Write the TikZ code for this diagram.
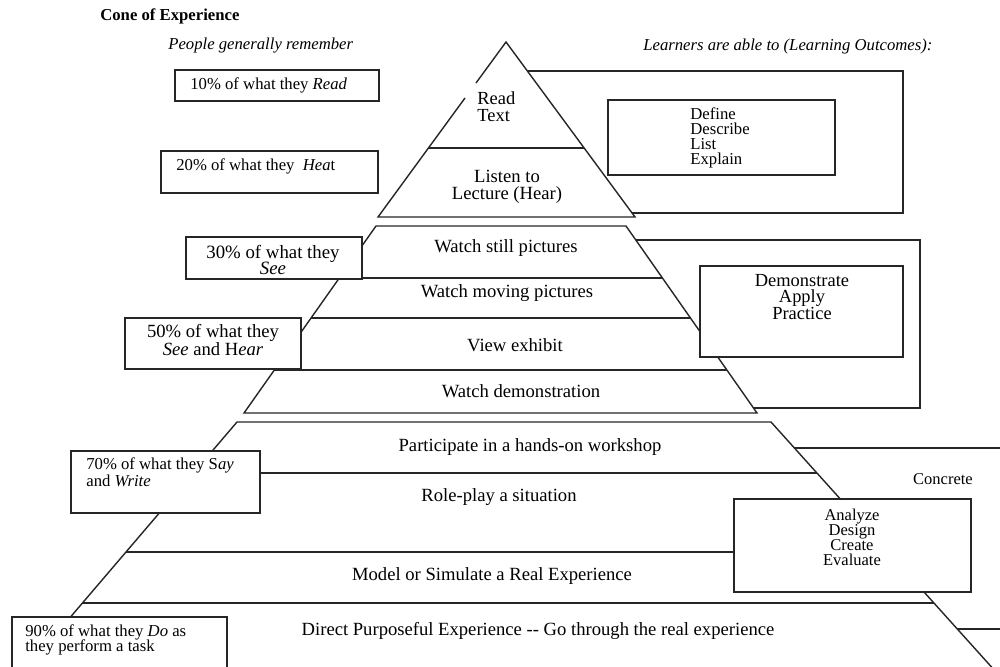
\documentclass[tikz,border=0pt]{standalone}
\usepackage{fontspec}
\setmainfont{Liberation Serif}
\begin{document}
\begin{tikzpicture}[x=0.02cm, y=-0.02cm,
    edge/.style={line width=0.8pt, draw=black!85},
    wbox/.style={edge, fill=white},
    note/.style={inner sep=0pt, font=\fontsize{9.5}{11}\selectfont},
    stage/.style={inner sep=0pt, font=\fontsize{10.6}{12}\selectfont},
    verbs/.style={inner sep=0pt, align=center}]
  \useasboundingbox (0,0) rectangle (1000,666);
  \clip (0,0) rectangle (1000,666);

  % top of the cone
  \draw [edge] (510,71) rectangle (903,213);
  \fill [white] (506,42) -- (635,217) -- (378,217) -- cycle;
  \draw [edge] (476,83) -- (506,42) -- (635,217) -- (378,217) -- (465,98);
  \draw [edge] (429,148) -- (584,148);
  \draw [wbox] (608,100) rectangle (835,175);

  % middle of the cone
  \draw [edge] (600,240) rectangle (920,408);
  \draw [wbox] (376,226) -- (626,226) -- (757,413) -- (244,413) -- cycle;
  \draw [edge] (339,278) -- (662,278);
  \draw [edge] (311,318) -- (690,318);
  \draw [edge] (274,370) -- (727,370);
  \draw [wbox] (700,266) rectangle (903,357);

  % base of the cone
  \draw [edge] (785,448) rectangle (1010,629);
  \draw [wbox] (237,422) -- (771,422) -- (1005,682) -- (15,682) -- cycle;
  \draw [edge] (193,473) -- (817,473);
  \draw [edge] (126,552) -- (888,552);
  \draw [edge] (82,603) -- (934,603);
  \draw [wbox] (734,499) rectangle (971,592);

  % remember boxes
  \draw [wbox] (175,70) rectangle (379,101);
  \draw [wbox] (161,151) rectangle (378,193);
  \draw [wbox] (186,237) rectangle (362,279);
  \draw [wbox] (125,318) rectangle (301,369);
  \draw [wbox] (71,451) rectangle (260,513);
  \draw [wbox] (12,617) rectangle (227,690);

  \node (title) at (100,16) [note, right, font=\fontsize{9.5}{11}\selectfont\bfseries] {Cone of Experience};
  \node (people) at (168,46) [note, right, font=\fontsize{9.5}{11}\selectfont\itshape] {People generally remember};
  \node (learners) at (643,46) [note, right, font=\fontsize{9.5}{11}\selectfont\itshape] {Learners are able to (Learning Outcomes):};

  \node (r10) at (190,85) [note, right] {10\% of what they \textit{Read}};
  \node (r20) at (176,166) [note, right] {20\% of what they \ \textit{Hea}t};
  \node (r30) at (273,260) [note, align=center, font=\fontsize{10.7}{9.4}\selectfont] {30\% of what they\\\textit{See}};
  \node (r50) at (213,340) [note, align=center, font=\fontsize{10.6}{9.4}\selectfont] {50\% of what they\\\textit{See} and H\textit{ear}};
  \node (r70) at (86,472) [note, right, align=left, font=\fontsize{9.5}{8.1}\selectfont] {70\% of what they S\textit{ay}\\and \textit{Write}};
  \node (r90) at (25,640) [note, right, align=left, font=\fontsize{9.5}{8.9}\selectfont] {90\% of what they \textit{Do} as\\they perform a task};

  \node (read) at (477,107) [stage, right, align=left, font=\fontsize{10.5}{9.6}\selectfont] {Read\\Text};
  \node (listen) at (507,187) [stage, align=center, font=\fontsize{10.6}{9.6}\selectfont] {Listen to\\Lecture (Hear)};
  \node (still) at (506,248) [stage] {Watch still pictures};
  \node (moving) at (507,293) [stage] {Watch moving pictures};
  \node (exhibit) at (515,345) [stage] {View exhibit};
  \node (demo) at (521,391) [stage] {Watch demonstration};
  \node (workshop) at (530,447) [stage] {Participate in a hands-on workshop};
  \node (roleplay) at (499,497) [stage] {Role-play a situation};
  \node (model) at (492,576) [stage] {Model or Simulate a Real Experience};
  \node (direct) at (538,631) [stage] {Direct Purposeful Experience -{}- Go through the real experience};

  \node (define) at (690,138) [verbs, right, align=left, font=\fontsize{9.5}{8.5}\selectfont] {Define\\Describe\\List\\Explain};
  \node (apply) at (802,297) [verbs, font=\fontsize{10.5}{9.3}\selectfont] {Demonstrate\\Apply\\Practice};
  \node (create) at (852,537) [verbs, font=\fontsize{9.4}{8.5}\selectfont] {Analyze\\Design\\Create\\Evaluate};
  \node (concrete) at (943,479) [note, font=\fontsize{9.4}{11}\selectfont] {Concrete};
\end{tikzpicture}
\end{document}
